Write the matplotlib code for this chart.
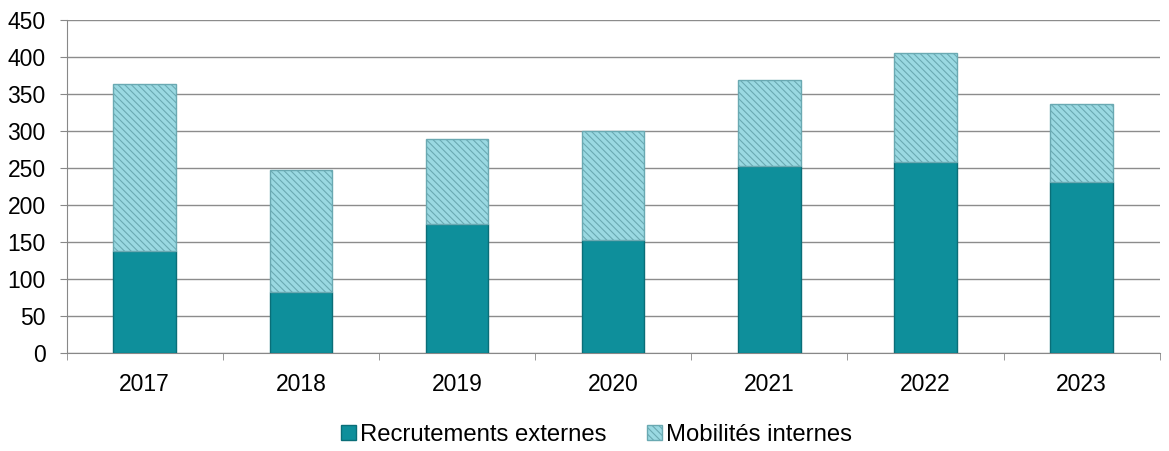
import matplotlib.pyplot as plt
import numpy as np

plt.rcParams['font.family'] = ['Liberation Sans', 'DejaVu Sans']
plt.rcParams['hatch.linewidth'] = 0.8

# Data
years = ['2017', '2018', '2019', '2020', '2021', '2022', '2023']
externes = [138, 83, 175, 153, 252, 258, 231]
internes = [225, 164, 114, 147, 117, 147, 105]

x = np.arange(len(years))

fig, ax = plt.subplots(figsize=(11.69, 4.51), dpi=100)
fig.subplots_adjust(left=0.057, right=0.992, bottom=0.217, top=0.956)

ax.bar(x, externes, width=0.4, color='#0e8f9b', edgecolor='#0a6e78',
       linewidth=1, label='Recrutements externes', zorder=3)
ax.bar(x, internes, width=0.4, bottom=externes, color='#9ad9e2',
       edgecolor='#6aa9b2', hatch='\\\\\\\\\\', linewidth=1,
       label='Mobilités internes', zorder=3)

ax.set_ylim(0, 450)
ax.set_xlim(-0.5, len(years) - 0.5)
ax.set_yticks(range(0, 451, 50))
ax.set_xticks(x)
ax.set_xticklabels(years)
ax.set_xticks(np.arange(-0.5, len(years), 1), minor=True)
ax.tick_params(axis='x', which='major', length=0, pad=14, labelsize=16.5)
ax.tick_params(axis='x', which='minor', length=5, color='#888888')
ax.tick_params(axis='y', length=5, color='#888888', labelsize=16.5, pad=10)

ax.grid(axis='y', color='#8c8c8c', linewidth=1, zorder=0)
for side in ['top', 'right']:
    ax.spines[side].set_visible(False)
ax.spines['left'].set_color('#888888')
ax.spines['bottom'].set_color('#888888')

fig.legend(loc='center', bbox_to_anchor=(0.51, 0.035), ncol=2,
           frameon=False, fontsize=17.2, handlelength=0.65, handleheight=0.6,
           handletextpad=0.15, columnspacing=1.7)

plt.savefig('out.png', dpi=100)
